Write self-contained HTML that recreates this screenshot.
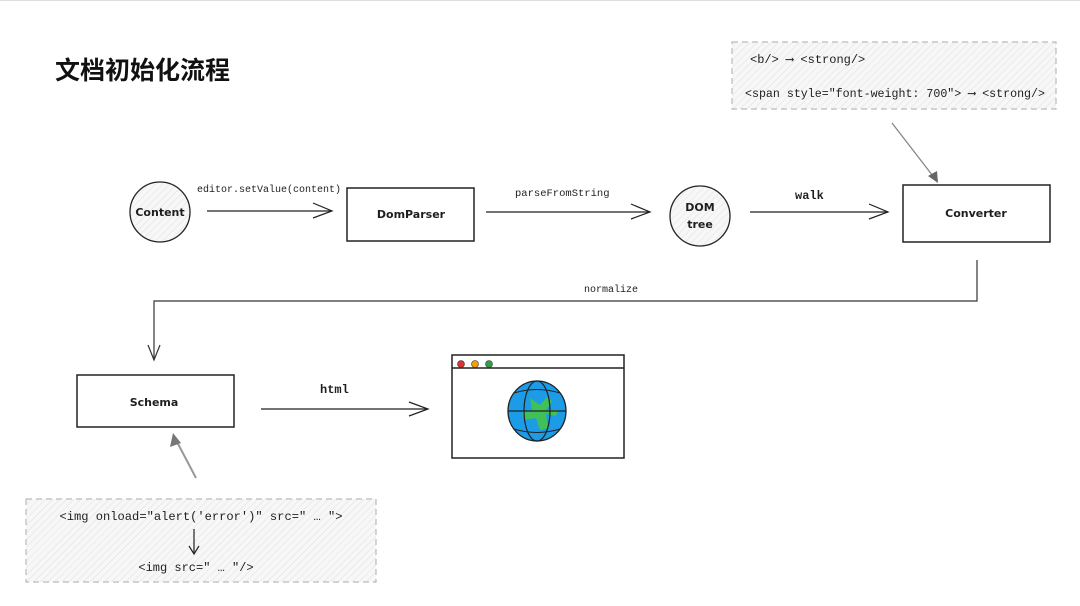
<!DOCTYPE html>
<html><head><meta charset="utf-8"><style>
html,body{margin:0;padding:0;background:#fff;}
svg{display:block;}
.m{font-family:"Liberation Mono","DejaVu Sans Mono",monospace;fill:#1e1e1e;}
.h{font-family:"Comic Sans MS","DejaVu Sans",sans-serif;fill:#1e1e1e;font-size:11px;}
</style></head><body>
<svg width="1080" height="606" viewBox="0 0 1080 606" xmlns="http://www.w3.org/2000/svg">
<defs>
<pattern id="hatch" width="5" height="5" patternUnits="userSpaceOnUse" patternTransform="rotate(45)">
<rect width="5" height="5" fill="#f7f7f7"/><line x1="0" y1="0" x2="0" y2="5" stroke="#e0e0e0" stroke-width="1"/>
</pattern>
</defs>
<line x1="0" y1="0.5" x2="1080" y2="0.5" stroke="#ddd"/>
<text x="55" y="79" font-family="'Liberation Sans','Noto Sans CJK SC',sans-serif" font-weight="bold" font-size="25" fill="#111">文档初始化流程</text>

<!-- top note -->
<rect x="732" y="42" width="324" height="67" fill="url(#hatch)" stroke="#bbb" stroke-dasharray="6,4" stroke-width="1.2"/>
<text x="750" y="63" class="m" font-size="12">&lt;b/&gt; ⟶ &lt;strong/&gt;</text>
<text x="745" y="97" class="m" font-size="12" textLength="300" lengthAdjust="spacingAndGlyphs">&lt;span style="font-weight: 700"&gt; ⟶ &lt;strong/&gt;</text>
<line x1="892" y1="123" x2="936" y2="180" stroke="#888" stroke-width="1.3"/>
<polygon points="938,183 928,176 937,171" fill="#666"/>

<!-- content circle -->
<circle cx="160" cy="212" r="30" fill="url(#hatch)" stroke="#222" stroke-width="1.3"/>
<text x="160" y="216" class="h" text-anchor="middle" font-weight="bold">Content</text>
<text x="197" y="192" class="m" font-size="10">editor.setValue(content)</text>
<line x1="207" y1="211" x2="332" y2="211" stroke="#222" stroke-width="1.3"/>
<polyline points="313,203 332,211 313,218" fill="none" stroke="#222" stroke-width="1.2"/>

<rect x="347" y="188" width="127" height="53" fill="#fff" stroke="#222" stroke-width="1.5"/>
<text x="411" y="218" class="h" text-anchor="middle" font-weight="bold">DomParser</text>
<text x="515" y="196" class="m" font-size="10.5">parseFromString</text>
<line x1="486" y1="212" x2="650" y2="212" stroke="#222" stroke-width="1.3"/>
<polyline points="631,204 650,212 631,219" fill="none" stroke="#222" stroke-width="1.2"/>

<circle cx="700" cy="216" r="30" fill="url(#hatch)" stroke="#222" stroke-width="1.3"/>
<text x="700" y="211" class="h" text-anchor="middle" font-weight="bold">DOM</text>
<text x="700" y="228" class="h" text-anchor="middle" font-weight="bold">tree</text>
<text x="795" y="199" class="m" font-size="12" font-weight="bold">walk</text>
<line x1="750" y1="212" x2="888" y2="212" stroke="#222" stroke-width="1.3"/>
<polyline points="869,204 888,212 869,219" fill="none" stroke="#222" stroke-width="1.2"/>

<rect x="903" y="185" width="147" height="57" fill="#fff" stroke="#222" stroke-width="1.5"/>
<text x="976" y="217" class="h" text-anchor="middle" font-weight="bold">Converter</text>

<!-- normalize -->
<polyline points="977,260 977,301 154,301 154,360" fill="none" stroke="#333" stroke-width="1.2"/>
<polyline points="148,345 154,360 160,345" fill="none" stroke="#333" stroke-width="1.2"/>
<text x="584" y="292" class="m" font-size="10">normalize</text>

<rect x="77" y="375" width="157" height="52" fill="#fff" stroke="#222" stroke-width="1.5"/>
<text x="154" y="406" class="h" text-anchor="middle" font-weight="bold">Schema</text>
<text x="320" y="393" class="m" font-size="12" font-weight="bold">html</text>
<line x1="261" y1="409" x2="428" y2="409" stroke="#222" stroke-width="1.3"/>
<polyline points="409,402 428,409 409,416" fill="none" stroke="#222" stroke-width="1.2"/>

<!-- browser -->
<rect x="452" y="355" width="172" height="103" fill="#fff" stroke="#222" stroke-width="1.5"/>
<line x1="452" y1="368" x2="624" y2="368" stroke="#222" stroke-width="1.5"/>
<circle cx="461" cy="364" r="3.5" fill="#e03131" stroke="#333" stroke-width="0.6"/>
<circle cx="475" cy="364" r="3.5" fill="#f59f00" stroke="#333" stroke-width="0.6"/>
<circle cx="489" cy="364" r="3.5" fill="#2f9e44" stroke="#333" stroke-width="0.6"/>
<ellipse cx="537" cy="411" rx="29" ry="30" fill="#1c9be6" stroke="#222" stroke-width="1.3"/>
<path d="M530,398 L540,405 L548,396 L552,402 L546,410 L558,410 L556,416 L546,414 L548,428 L540,430 L536,418 L524,420 L522,413 L532,410 Z" fill="#40c057"/>
<ellipse cx="537" cy="411" rx="13" ry="30" fill="none" stroke="#222" stroke-width="1.2"/>
<line x1="508" y1="411" x2="566" y2="411" stroke="#222" stroke-width="1.2"/>
<path d="M514,393 Q537,386 560,393 M514,429 Q537,436 560,429" fill="none" stroke="#222" stroke-width="1"/>

<!-- bottom note -->
<line x1="196" y1="478" x2="176" y2="440" stroke="#999" stroke-width="2"/>
<polygon points="173,433 170,447 181,443" fill="#777"/>
<rect x="26" y="499" width="350" height="83" fill="url(#hatch)" stroke="#bbb" stroke-dasharray="6,4" stroke-width="1.2"/>
<text x="201" y="520" class="m" font-size="12" text-anchor="middle" textLength="283" lengthAdjust="spacingAndGlyphs">&lt;img onload="alert('error')" src=" … "&gt;</text>
<line x1="194" y1="529" x2="194" y2="553" stroke="#222" stroke-width="1.2"/>
<polyline points="189,546 194,554 199,546" fill="none" stroke="#222" stroke-width="1.2"/>
<text x="196" y="571" class="m" font-size="12" text-anchor="middle">&lt;img src=" … "/&gt;</text>
</svg>
</body></html>
